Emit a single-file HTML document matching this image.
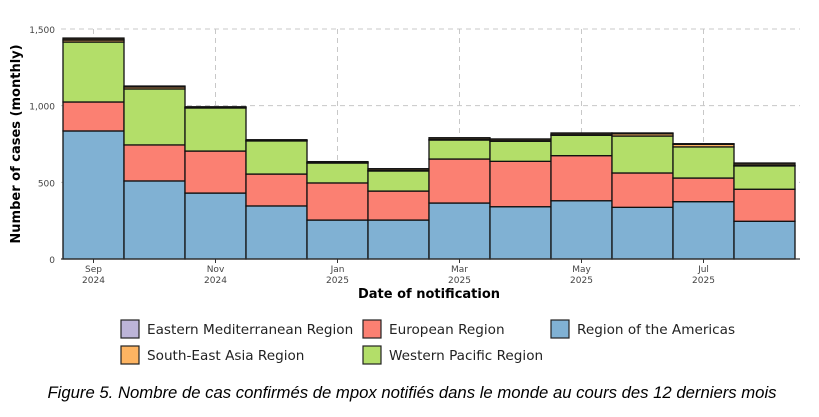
<!DOCTYPE html>
<html><head><meta charset="utf-8"><style>
body{margin:0;background:#fff;width:819px;height:417px;overflow:hidden}
svg{display:block;font-family:"DejaVu Sans","Liberation Sans",sans-serif}
</style></head><body>
<svg id="c" width="819" height="417"></svg>
<script>
const months=["2024-09","2024-10","2024-11","2024-12","2025-01","2025-02","2025-03","2025-04","2025-05","2025-06","2025-07","2025-08"];
const americas=[835,509,430,346,254,254,365,341,380,337,374,246];
const europe=[189,235,274,208,242,189,287,296,294,224,154,209];
const westernPacific=[391,365,281,216,130,131,124,131,133,241,203,152];
const southEastAsia=[13,13,2,2,2,2,2,2,2,15,17,2];
const easternMed=[13,6,6,6,7,13,13,13,13,5,4,17];
const yTicks=[0,500,1000,1500];
const yTickLabels=["0","500","1,000","1,500"];
const xTickIdx=[0,2,4,6,8,10];
const xTickLabels=[["Sep","2024"],["Nov","2024"],["Jan","2025"],["Mar","2025"],["May","2025"],["Jul","2025"]];
const NS="http://www.w3.org/2000/svg";
const svg=document.getElementById('c');
const x0=63,bw=61,yb=259,ymax=1500,yt=29;
const y=v=>yb-v*(yb-yt)/ymax;
const xs=i=>x0+i*bw;
function mk(t,a,p){const e=document.createElementNS(NS,t);for(const k in a)e.setAttribute(k,a[k]);(p||svg).appendChild(e);return e;}
yTicks.forEach((t,i)=>{
 if(t>0){const g=mk('line',{x1:61,x2:800,y1:y(t),y2:y(t),stroke:'#c8c8c8','stroke-dasharray':'5,4'});
 
 }
 const l=mk('text',{x:55,y:y(t)+4,'text-anchor':'end','font-size':9,fill:'#444'});l.textContent=yTickLabels[i];
 
 
});
xTickIdx.forEach((idx,i)=>{
 const cx=xs(idx)+bw/2;
 const g=mk('line',{x1:cx,x2:cx,y1:yt,y2:yb,stroke:'#c8c8c8','stroke-dasharray':'5,4'});
 
 
 mk('line',{x1:cx,x2:cx,y1:yb,y2:yb+4,stroke:'#333'});
 const t=mk('text',{x:cx,y:272,'text-anchor':'middle','font-size':9,fill:'#444'});
 t.textContent=xTickLabels[i][0];
 
 
 const t2=mk('text',{x:cx,y:283,'text-anchor':'middle','font-size':9,fill:'#444'});
 t2.textContent=xTickLabels[i][1];
 
 
});
const series=[[americas,'#80b1d3','americas'],[europe,'#fb8072','europe'],[westernPacific,'#b3de69','western-pacific'],[southEastAsia,'#fdb462','south-east-asia'],[easternMed,'#3a3020','eastern-mediterranean']];
months.forEach((m,i)=>{
 let acc=0;
 series.forEach(([arr,col,nm])=>{
  const v=arr[i];const r=mk('rect',{x:xs(i),y:y(acc+v),width:bw,height:y(acc)-y(acc+v),fill:col,stroke:'#111','stroke-width':1.3});
  
  
  acc+=v;
 });
});
mk('line',{x1:61,x2:800,y1:yb,y2:yb,stroke:'#333','stroke-width':1.2});
const yt2=mk('text',{x:0,y:0,'font-size':13,'font-weight':'bold','text-anchor':'middle',transform:'translate(20,144) rotate(-90)'});
yt2.textContent='Number of cases (monthly)';


const xt=mk('text',{x:429,y:298,'font-size':13,'font-weight':'bold','text-anchor':'middle'});
xt.textContent='Date of notification';


const leg=[["Eastern Mediterranean Region",'#bcb4d8',121,329],["European Region",'#fb8072',363,329],["Region of the Americas",'#80b1d3',551,329],["South-East Asia Region",'#fdb462',121,355],["Western Pacific Region",'#b3de69',363,355]];
leg.forEach(([n,c,lx,ly])=>{
 const g=mk('g',{});
 
 
 mk('rect',{x:lx,y:ly-9,width:18,height:18,fill:c,stroke:'#222','stroke-width':1.2},g);
 const t=mk('text',{x:lx+26,y:ly+5,'font-size':13.6,fill:'#222'},g);t.textContent=n;
});
const cap=mk('text',{x:412,y:398,'font-size':16.7,'font-style':'italic','text-anchor':'middle','font-family':'Liberation Sans, sans-serif'});
cap.textContent='Figure 5. Nombre de cas confirmés de mpox notifiés dans le monde au cours des 12 derniers mois';


</script>
</body></html>
